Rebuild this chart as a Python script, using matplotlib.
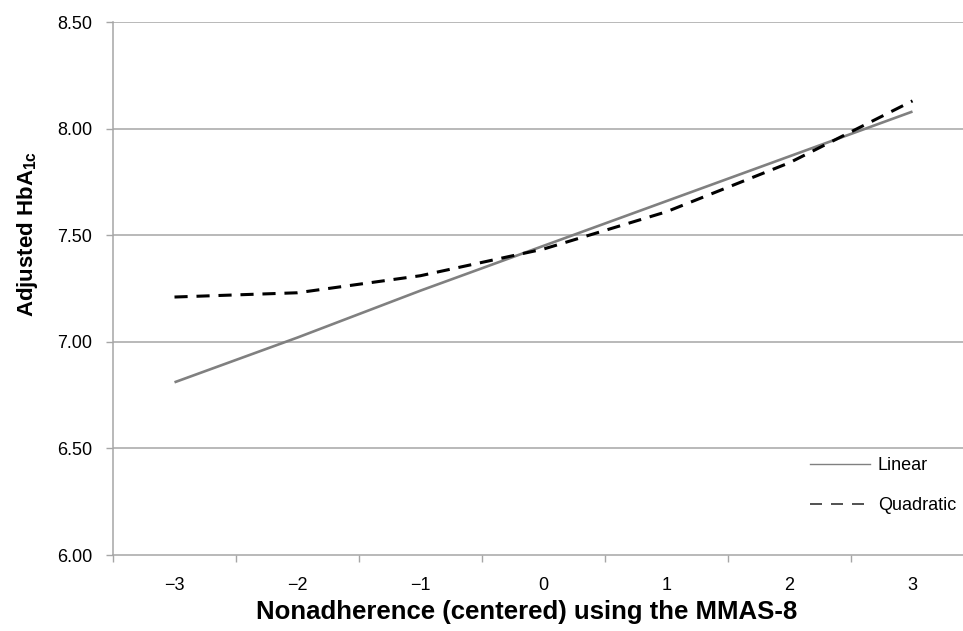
import matplotlib
matplotlib.use('Agg')
import matplotlib.pyplot as plt
from matplotlib import font_manager as fm
from matplotlib.lines import Line2D
import numpy as np

# pick the normal-width Liberation Sans files (not the Narrow ones)
reg_path, bold_path = None, None
for f in fm.fontManager.ttflist:
    base = f.fname.split('/')[-1]
    if base == 'LiberationSans-Regular.ttf':
        reg_path = f.fname
    if base == 'LiberationSans-Bold.ttf':
        bold_path = f.fname

def reg(size):
    if reg_path:
        return fm.FontProperties(fname=reg_path, size=size)
    return fm.FontProperties(family='Liberation Sans', size=size)

def bold(size):
    if bold_path:
        return fm.FontProperties(fname=bold_path, size=size)
    return fm.FontProperties(family='Liberation Sans', weight='bold', size=size)

plt.rcParams['mathtext.fontset'] = 'custom'
plt.rcParams['mathtext.bf'] = 'Liberation Sans:bold'

# data
x_vals = [-3, -2, -1, 0, 1, 2, 3]
linear = [6.81, 7.02, 7.24, 7.45, 7.66, 7.87, 8.08]
quadratic = [7.21, 7.23, 7.31, 7.435, 7.61, 7.84, 8.13]
y_ticks = [6.00, 6.50, 7.00, 7.50, 8.00, 8.50]

W, H = 963, 631
fig = plt.figure(figsize=(W / 100, H / 100), dpi=100)
# plot area runs past the right edge of the picture, as in the source
ax = fig.add_axes([113 / W, 1 - 555 / H, (974 - 113) / W, (555 - 22) / H])

grid_col = '#a6a6a6'
for v in y_ticks[1:]:
    ax.axhline(v, color=grid_col, lw=1.1, zorder=1)

ax.plot(x_vals, linear, color='#808080', lw=1.9, solid_capstyle='butt', zorder=3)
ax.plot(x_vals, quadratic, color='black', lw=2.2, dashes=(4.3, 2.9),
        dash_capstyle='butt', zorder=4)

ax.set_xlim(-3.5, 3.5)
ax.set_ylim(6.0, 8.5)

ax.set_yticks(y_ticks)
ax.set_yticklabels(['%.2f' % v for v in y_ticks], fontproperties=reg(13))
ax.set_xticks(x_vals)
ax.set_xticklabels(['\u2212%d' % -v if v < 0 else '%d' % v for v in x_vals],
                   fontproperties=reg(13))
ax.set_xticks(np.arange(-3.5, 4.0, 1.0), minor=True)

ax.tick_params(axis='y', length=5, width=1, color=grid_col, pad=10)
ax.tick_params(axis='x', which='major', length=0, pad=16)
ax.tick_params(axis='x', which='minor', length=5, width=1, color=grid_col)

for s in ['top', 'right']:
    ax.spines[s].set_visible(False)
for s in ['left', 'bottom']:
    ax.spines[s].set_color(grid_col)
    ax.spines[s].set_linewidth(1.1)

fig.text(527 / W, 1 - 612 / H, 'Nonadherence (centered) using the MMAS-8',
         ha='center', va='center', fontproperties=bold(18.5))
fig.text(28 / W, 1 - 234 / H, r'Adjusted HbA$\mathbf{_{1c}}$', rotation=90,
         ha='center', va='center', fontproperties=bold(16))

handles = [Line2D([], [], color='#808080', lw=1.0),
           Line2D([], [], color='#333333', lw=1.2, dashes=(7.2, 5.4))]
fig.legend(handles, ['Linear', 'Quadratic'], loc='upper left',
           bbox_to_anchor=(810 / W, 1 - 457 / H), frameon=False,
           prop=reg(13), handlelength=3.3, handletextpad=0.45,
           labelspacing=1.3, borderpad=0, borderaxespad=0)

fig.savefig('out.png', dpi=100)
